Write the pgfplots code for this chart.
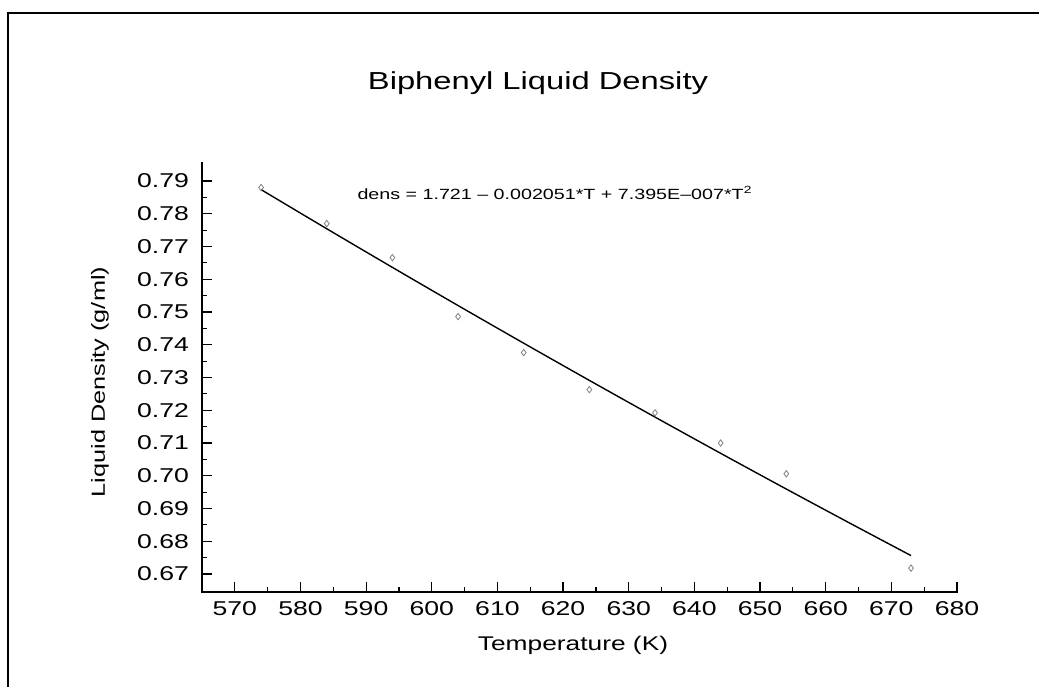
\documentclass[border=0pt]{standalone}
\usepackage{fontspec}
\setmainfont{Liberation Sans}[FakeStretch=1.33]
\usepackage{pgfplots}
\pgfplotsset{compat=1.18}
\begin{document}
\begin{tikzpicture}
\begin{axis}[
  at={(0,0)}, anchor=south west,
  scale only axis,
  width=377.5pt, height=214.5pt,
  xmin=565, xmax=680, ymin=0.6645, ymax=0.7955,
  axis line style={draw=none},
  xtick pos=bottom, ytick pos=left,
  tick align=inside,
  major tick length=5pt, minor tick length=2.5pt,
  tick style={line width=0.6pt, black},
  xtick={570,580,...,680},
  ytick={0.67,0.68,...,0.79},
  minor x tick num=1, minor y tick num=1,
  /pgf/number format/assume math mode=true,
  yticklabel style={/pgf/number format/fixed, /pgf/number format/fixed zerofill, /pgf/number format/precision=2, font=\fontsize{10}{12}\selectfont, xshift=-3pt},
  xticklabel style={/pgf/number format/1000 sep={}, font=\fontsize{10}{12}\selectfont, yshift=-1pt},
  scaled y ticks=false,
  clip=false,
  after end axis/.code={
    \draw[line width=0.9pt, line cap=rect] (rel axis cs:0,1) -- (rel axis cs:0,0) -- (rel axis cs:1,0);
  },
]
\addplot[black, line width=0.7pt, smooth] coordinates {
(574,0.787374) (584,0.775427) (594,0.763628) (604,0.751977) (614,0.740475)
(624,0.729120) (634,0.717913) (644,0.706853) (654,0.695942) (664,0.685179) (673,0.675618)};
\addplot[only marks, mark=diamond, mark size=1.6pt, draw=gray, mark options={line width=0.4pt}] coordinates {
(574,0.7880) (584,0.7770) (594,0.7666) (604,0.7486) (614,0.7376)
(624,0.7263) (634,0.7192) (644,0.7100) (654,0.7006) (673,0.6718)};
\end{axis}
\node[font=\fontsize{12.3}{14}\selectfont] at (168pt,254.5pt) {Biphenyl Liquid Density};
\node[font=\fontsize{7.4}{9}\selectfont] at (176.5pt,199.5pt) {dens = 1.721 -- 0.002051*T + 7.395E--007*T\textsuperscript{2}};
\node[font=\fontsize{9.5}{11}\selectfont, rotate=90] at (-51pt,105pt) {Liquid Density (g/ml)};
\node[font=\fontsize{9.9}{12}\selectfont] at (185.5pt,-26.5pt) {Temperature (K)};
\draw[line width=0.6pt] (-97pt,-47.5pt) -- (-97pt,289.5pt) -- (418.5pt,289.5pt);
\pgfresetboundingbox
\path[use as bounding box] (-101pt,-47.5pt) rectangle (418.5pt,296pt);
\end{tikzpicture}
\end{document}
